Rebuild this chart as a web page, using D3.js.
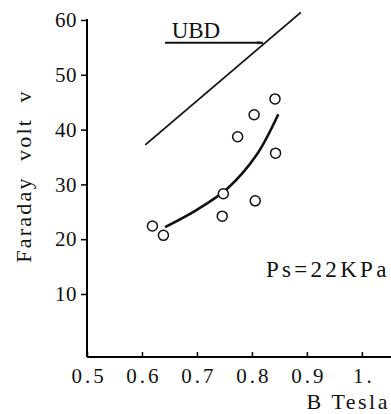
<!DOCTYPE html>
<html>
<head>
<meta charset="utf-8">
<script src="https://cdn.jsdelivr.net/npm/d3@7"></script>
</head>
<body style="margin:0;background:#fff">
<script>
// measured points (B in Tesla, Faraday voltage in V)
const bField = [0.619, 0.639, 0.748, 0.746, 0.806, 0.774, 0.804, 0.842, 0.843];
const volts  = [22.4, 20.7, 28.3, 24.2, 27.0, 38.7, 42.7, 45.6, 35.7];

// fitted curve through the measurements
const fitB = [0.642, 0.699, 0.756, 0.808, 0.848];
const fitV = [22.2, 25.3, 29.3, 35.3, 42.8];

// UBD breakdown line
const ubdB = [0.606, 0.889];
const ubdV = [37.2, 61.4];

const xTicks = [0.5, 0.6, 0.7, 0.8, 0.9, 1.0];
const xTickLabels = ["0.5", "0.6", "0.7", "0.8", "0.9", "1."];
const yTicks = [10, 20, 30, 40, 50, 60];

const W = 391, H = 414;
const SERIF = "'Liberation Serif'";

const svg = d3.select("body")
    .append("svg")
    .attr("width", W)
    .attr("height", H)
    .style("font-family", SERIF);

const x = d3.scaleLinear().domain([0.5, 1.053]).range([87, 391]);
const y = d3.scaleLinear().domain([-1.5, 60]).range([357, 20]);

/**
 * Axes
 */
const xAxis = svg.append("g")
    .attr("transform", `translate(0,${y(-1.5)})`)
    .call(d3.axisBottom(x)
        .tickValues(xTicks)
        .tickSize(-5)
        .tickPadding(11)
        .tickFormat((d, i) => xTickLabels[i]))
    .attr("font-family", null);
xAxis.select(".domain").attr("d", `M${x(0.5)},0H${W}`).attr("stroke-width", 2);
xAxis.selectAll(".tick line").attr("stroke-width", 1.5);
xAxis.selectAll(".tick text")
    .style("font-family", SERIF)
    .style("font-size", "21px")
    .attr("letter-spacing", 3)
    .attr("dx", 1.5)
    .attr("fill", "#111");

const yAxis = svg.append("g")
    .attr("transform", `translate(${x(0.5)},0)`)
    .call(d3.axisLeft(y)
        .tickValues(yTicks)
        .tickSize(6)
        .tickPadding(4)
        .tickFormat(d3.format("d")))
    .attr("font-family", null);
yAxis.select(".domain").attr("d", `M0,${y(60) - 1}V${y(-1.5)}`).attr("stroke-width", 2);
yAxis.selectAll(".tick line").attr("stroke-width", 1.5);
yAxis.selectAll(".tick text")
    .style("font-family", SERIF)
    .style("font-size", "21px")
    .attr("letter-spacing", 0.5)
    .attr("fill", "#111");

svg.append("text")
    .attr("transform", `translate(31,176) rotate(-90)`)
    .attr("text-anchor", "middle")
    .style("font-family", SERIF)
    .style("font-size", "22px")
    .style("white-space", "pre")
    .attr("letter-spacing", 2.2)
    .attr("fill", "#111")
    .text("Faraday  volt  v");

svg.append("text")
    .attr("x", 390)
    .attr("y", 409)
    .attr("text-anchor", "end")
    .style("font-family", SERIF)
    .style("font-size", "22px")
    .attr("letter-spacing", 2.5)
    .attr("fill", "#111")
    .text("B Tesla");

/**
 * UBD line and its label
 */
const line = d3.line().x(d => x(d[0])).y(d => y(d[1]));

svg.append("path")
    .datum(d3.zip(ubdB, ubdV))
    .attr("d", line)
    .attr("fill", "none")
    .attr("stroke", "#111")
    .attr("stroke-width", 1.8);

svg.append("defs").append("marker")
    .attr("id", "arrow")
    .attr("viewBox", "0 0 10 6")
    .attr("refX", 10)
    .attr("refY", 3)
    .attr("markerWidth", 6)
    .attr("markerHeight", 3.6)
    .attr("markerUnits", "userSpaceOnUse")
    .attr("orient", "auto")
    .append("path")
    .attr("d", "M0,1L10,3L0,5")
    .attr("fill", "none")
    .attr("stroke", "#111")
    .attr("stroke-width", 1.2);

svg.append("line")
    .attr("x1", x(0.642)).attr("y1", y(55.85))
    .attr("x2", x(0.82)).attr("y2", y(55.85))
    .attr("stroke", "#111")
    .attr("stroke-width", 1.8)
    .attr("marker-end", "url(#arrow)");

svg.append("text")
    .attr("x", x(0.654))
    .attr("y", y(56.8))
    .style("font-family", SERIF)
    .style("font-size", "23px")
    .attr("fill", "#111")
    .text("UBD");

/**
 * Fitted curve and measurements
 */
svg.append("path")
    .datum(d3.zip(fitB, fitV))
    .attr("d", line.curve(d3.curveCatmullRom))
    .attr("fill", "none")
    .attr("stroke", "#111")
    .attr("stroke-width", 2.6);

svg.selectAll("circle.pt")
    .data(d3.zip(bField, volts))
    .enter()
    .append("circle")
    .attr("class", "pt")
    .attr("cx", d => x(d[0]))
    .attr("cy", d => y(d[1]))
    .attr("r", 5)
    .attr("fill", "#fff")
    .attr("stroke", "#111")
    .attr("stroke-width", 1.5);

svg.append("text")
    .attr("x", x(0.8255))
    .attr("y", y(13.1))
    .style("font-family", SERIF)
    .style("font-size", "23px")
    .attr("letter-spacing", 3.3)
    .attr("fill", "#111")
    .text("Ps=22KPa");
</script>
</body>
</html>
